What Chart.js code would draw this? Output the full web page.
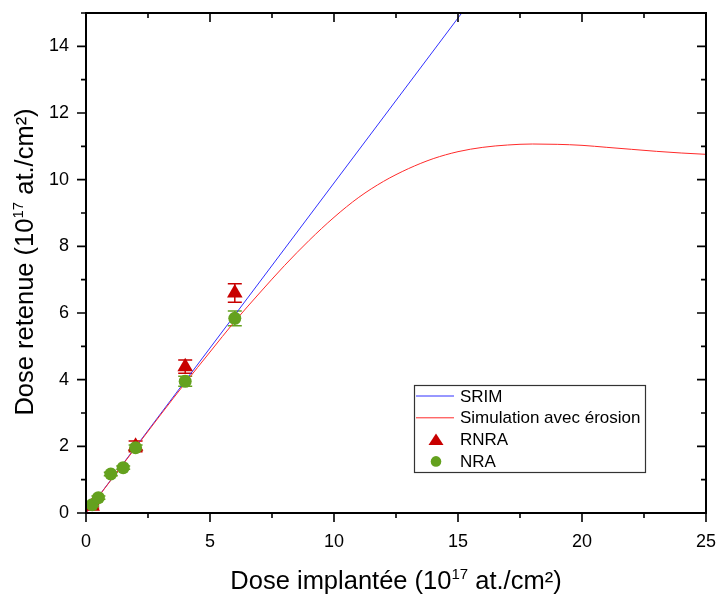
<!DOCTYPE html>
<html>
<head>
<meta charset="utf-8">
<script src="https://cdn.jsdelivr.net/npm/chart.js@4.4.1/dist/chart.umd.min.js"></script>
<style>
  html, body { margin: 0; padding: 0; background: #fff; }
  #wrap { width: 718px; height: 594px; }
</style>
</head>
<body>
<div id="wrap"><canvas id="doseChart" width="718" height="594"></canvas></div>
<script>
// SRIM : dose retenue sans érosion
const srimX = [0, 25];
const srimY = [0, 24.75];

// simulation avec érosion
const simX = [0, 1, 2, 3, 4, 5, 6, 7, 8, 9, 10, 11, 12, 13, 14, 15, 16, 17, 18, 19, 20, 21, 22, 23, 24, 25];
const simY = [0, 0.98, 1.96, 2.94, 3.9, 4.83, 5.75, 6.6, 7.42, 8.18, 8.87, 9.47, 9.95, 10.33, 10.63, 10.84, 10.97, 11.04, 11.07, 11.06, 11.03, 10.97, 10.91, 10.85, 10.8, 10.76];

// mesures RNRA
const rnraX = [0.25, 2, 4, 6];
const rnraY = [0.2, 2.0, 4.39, 6.6];
const rnraErr = [0.05, 0.16, 0.2, 0.28];

// mesures NRA
const nraX = [0.25, 0.5, 1, 1.5, 2, 4, 6];
const nraY = [0.25, 0.46, 1.17, 1.36, 1.96, 3.95, 5.84];
const nraErr = [0.05, 0.05, 0.05, 0.05, 0.08, 0.15, 0.22];

const xTicks = [0, 5, 10, 15, 20, 25];
const yTicks = [0, 2, 4, 6, 8, 10, 12, 14];

const FONT = '"Liberation Sans", Arial, sans-serif';
const BLUE = '#3030ff';
const RED_LINE = '#ff2a2a';
const RED = '#c80000';
const GREEN = '#64a11e';

const pts = (xs, ys) => xs.map((x, i) => ({ x, y: ys[i] }));

// barres d'erreur, cadre, graduations secondaires, titres et légende
const decorations = {
  id: 'decorations',
  beforeDatasetsDraw(chart) {
    const { ctx } = chart;
    const xs = chart.scales.x, ys = chart.scales.y;
    const bars = (xArr, yArr, eArr, color) => {
      ctx.save();
      ctx.strokeStyle = color;
      ctx.lineWidth = 1.5;
      xArr.forEach((x, i) => {
        const px = xs.getPixelForValue(x);
        const top = ys.getPixelForValue(yArr[i] + eArr[i]);
        const bot = ys.getPixelForValue(yArr[i] - eArr[i]);
        ctx.beginPath();
        ctx.moveTo(px, top); ctx.lineTo(px, bot);
        ctx.moveTo(px - 7, top); ctx.lineTo(px + 7, top);
        ctx.moveTo(px - 7, bot); ctx.lineTo(px + 7, bot);
        ctx.stroke();
      });
      ctx.restore();
    };
    bars(rnraX, rnraY, rnraErr, RED);
    bars(nraX, nraY, nraErr, GREEN);
  },
  afterDraw(chart) {
    const { ctx, chartArea: a } = chart;
    const xs = chart.scales.x, ys = chart.scales.y;
    ctx.save();
    ctx.strokeStyle = '#000';
    ctx.lineWidth = 2;
    ctx.strokeRect(a.left, a.top, a.right - a.left, a.bottom - a.top);

    // graduations : extérieures en bas/à gauche, intérieures en haut/à droite
    ctx.lineWidth = 1.6;
    ctx.beginPath();
    for (let v = 0; v <= 25; v += 2.5) {
      const len = v % 5 === 0 ? 9 : 5;
      const px = xs.getPixelForValue(v);
      ctx.moveTo(px, a.bottom); ctx.lineTo(px, a.bottom + len);
      ctx.moveTo(px, a.top); ctx.lineTo(px, a.top + len);
    }
    for (let v = 0; v <= 15; v += 1) {
      const len = v % 2 === 0 ? 9 : 5;
      const py = ys.getPixelForValue(v);
      ctx.moveTo(a.left, py); ctx.lineTo(a.left - len, py);
      ctx.moveTo(a.right, py); ctx.lineTo(a.right - len, py);
    }
    ctx.stroke();

    // titres des axes avec exposant
    const title = (before, sup, after, cx, cy, rot) => {
      ctx.save();
      ctx.translate(cx, cy);
      ctx.rotate(rot);
      ctx.fillStyle = '#000';
      ctx.textBaseline = 'alphabetic';
      const big = '25.5px ' + FONT, small = '15px ' + FONT;
      ctx.font = big; const w1 = ctx.measureText(before).width;
      const w3 = ctx.measureText(after).width;
      ctx.font = small; const w2 = ctx.measureText(sup).width;
      let x = -(w1 + w2 + w3) / 2;
      ctx.font = big; ctx.fillText(before, x, 0); x += w1;
      ctx.font = small; ctx.fillText(sup, x, -10); x += w2;
      ctx.font = big; ctx.fillText(after, x, 0);
      ctx.restore();
    };
    title('Dose implantée (10', '17', ' at./cm²)', (a.left + a.right) / 2, 589, 0);
    title('Dose retenue (10', '17', ' at./cm²)', 33, (a.top + a.bottom) / 2 - 1, -Math.PI / 2);

    // légende
    const lx = 414, ly = 385, lw = 231, lh = 87;
    ctx.fillStyle = '#fff';
    ctx.fillRect(lx, ly, lw, lh);
    ctx.strokeStyle = '#333';
    ctx.lineWidth = 1.2;
    ctx.strokeRect(lx + 0.5, ly + 0.5, lw, lh);
    const rows = [
      { label: 'SRIM', kind: 'line', color: BLUE },
      { label: 'Simulation avec érosion', kind: 'line', color: RED_LINE },
      { label: 'RNRA', kind: 'tri', color: RED },
      { label: 'NRA', kind: 'dot', color: GREEN }
    ];
    ctx.font = '17px ' + FONT;
    ctx.textBaseline = 'middle';
    rows.forEach((r, i) => {
      const y = ly + 11 + i * 21.8;
      ctx.strokeStyle = r.color; ctx.fillStyle = r.color;
      if (r.kind === 'line') {
        ctx.lineWidth = 1;
        ctx.beginPath(); ctx.moveTo(lx + 2, y); ctx.lineTo(lx + 40, y); ctx.stroke();
      } else if (r.kind === 'tri') {
        ctx.beginPath();
        ctx.moveTo(lx + 22, y - 6); ctx.lineTo(lx + 29.5, y + 5.5); ctx.lineTo(lx + 14.5, y + 5.5);
        ctx.closePath(); ctx.fill();
      } else {
        ctx.beginPath(); ctx.arc(lx + 22, y, 5.3, 0, Math.PI * 2); ctx.fill();
      }
      ctx.fillStyle = '#000';
      ctx.fillText(r.label, lx + 46, y + 1);
    });
    ctx.restore();
  }
};

new Chart(document.getElementById('doseChart'), {
  type: 'scatter',
  data: {
    datasets: [
      {
        label: 'SRIM', data: pts(srimX, srimY), showLine: true,
        borderColor: BLUE, borderWidth: 1, pointRadius: 0, order: 4
      },
      {
        label: 'Simulation avec érosion', data: pts(simX, simY), showLine: true,
        borderColor: RED_LINE, borderWidth: 1, pointRadius: 0,
        cubicInterpolationMode: 'monotone', order: 3
      },
      {
        label: 'RNRA', data: pts(rnraX, rnraY), pointStyle: 'triangle',
        pointRadius: 9, backgroundColor: RED, borderColor: RED, borderWidth: 0, order: 2
      },
      {
        label: 'NRA', data: pts(nraX, nraY), pointStyle: 'circle',
        pointRadius: 6.5, backgroundColor: GREEN, borderColor: GREEN, borderWidth: 0, order: 1
      }
    ]
  },
  options: {
    responsive: false,
    animation: false,
    layout: { padding: { top: 13, right: 12, left: 0, bottom: 0 } },
    plugins: { legend: { display: false }, tooltip: { enabled: false } },
    scales: {
      x: {
        type: 'linear', min: 0, max: 25,
        afterFit: s => { s.height = 81; s.paddingLeft = 0; s.paddingRight = 0; },
        afterBuildTicks: s => { s.ticks = xTicks.map(v => ({ value: v })); },
        grid: { display: false, drawTicks: false },
        border: { display: false },
        ticks: { color: '#000', padding: 18, maxRotation: 0, font: { family: FONT, size: 18 } }
      },
      y: {
        type: 'linear', min: 0, max: 15,
        afterFit: s => { s.width = 86; s.paddingTop = 0; s.paddingBottom = 0; },
        afterBuildTicks: s => { s.ticks = yTicks.map(v => ({ value: v })); },
        grid: { display: false, drawTicks: false },
        border: { display: false },
        ticks: { color: '#000', padding: 17, font: { family: FONT, size: 18 } }
      }
    }
  },
  plugins: [decorations]
});
</script>
</body>
</html>
